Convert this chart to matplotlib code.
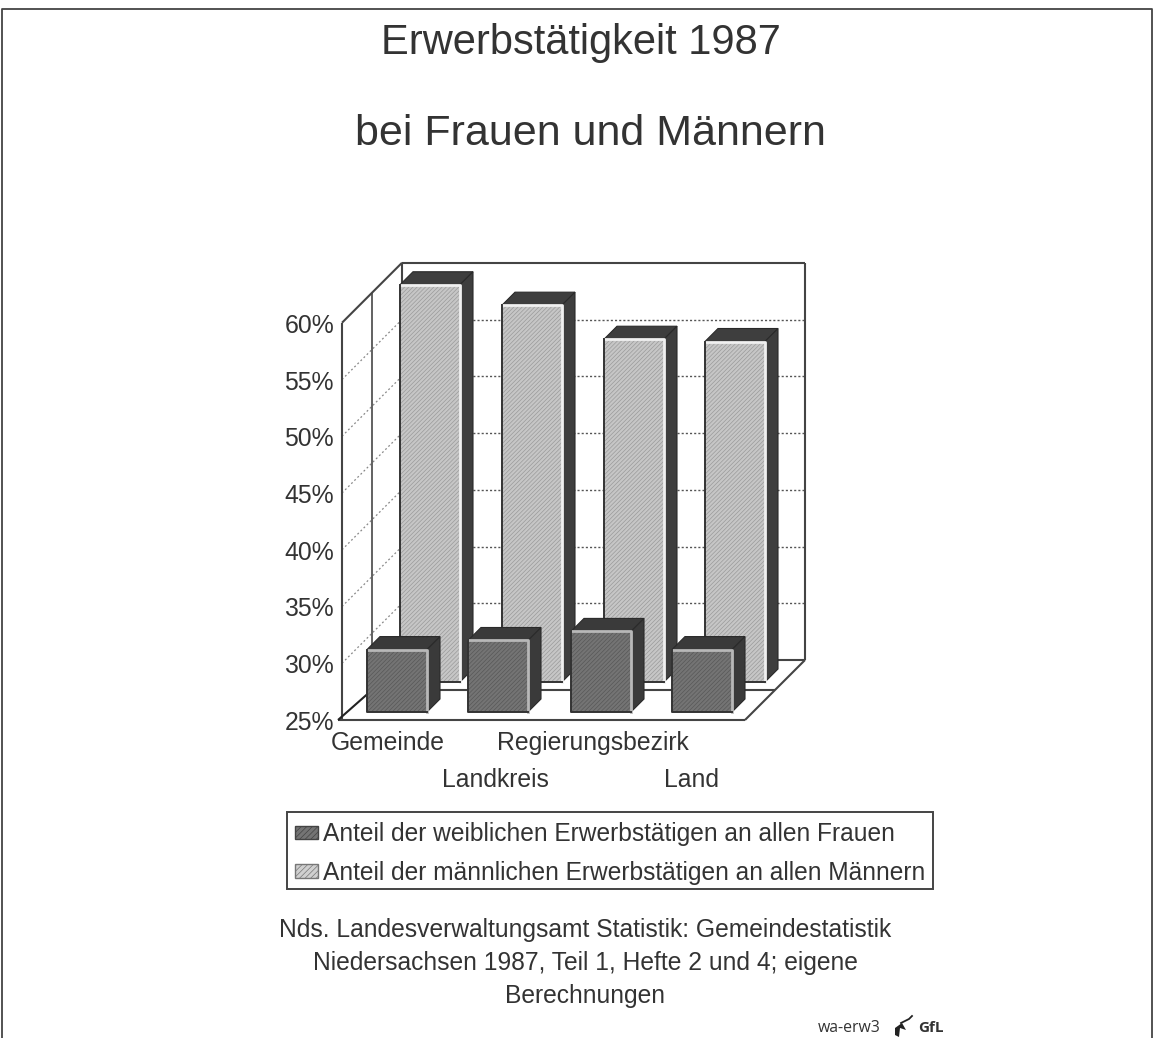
import matplotlib
matplotlib.use("Agg")
import matplotlib.pyplot as plt
from matplotlib.patches import Polygon, Rectangle

plt.rcParams['font.family'] = ['Liberation Sans', 'DejaVu Sans']
plt.rcParams['hatch.linewidth'] = 0.5

categories_row1 = ["Gemeinde", "Regierungsbezirk"]
categories_row2 = ["Landkreis", "Land"]
women = [30.5, 31.3, 32.1, 30.5]
men = [60.0, 58.2, 55.2, 55.0]
ticks = [25, 30, 35, 40, 45, 50, 55, 60]
women_left = [359, 460, 563, 664]
men_left = [362, 464, 566, 667]
title_lines = ["Erwerbstätigkeit 1987", "bei Frauen und Männern"]
legend_labels = ["Anteil der weiblichen Erwerbstätigen an allen Frauen",
                 "Anteil der männlichen Erwerbstätigen an allen Männern"]
source_lines = ["Nds. Landesverwaltungsamt Statistik: Gemeindestatistik",
                "Niedersachsen 1987, Teil 1, Hefte 2 und 4; eigene",
                "Berechnungen"]

W, H = 1155, 1038
PX_PER_PCT = 11.35
Y25 = 720
TXT = '#333333'

fig = plt.figure(figsize=(W / 100, H / 100), dpi=100, facecolor='white')
ax = fig.add_axes([0, 0, 1, 1], zorder=1)
ax.set_xlim(0, W)
ax.set_ylim(25 - (H - Y25) / PX_PER_PCT, 25 + Y25 / PX_PER_PCT)
ax.axis('off')
ov = fig.add_axes([0, 0, 1, 1], zorder=2)
ov.set_xlim(0, W)
ov.set_ylim(H, 0)
ov.axis('off')
ov.patch.set_alpha(0)


def proj(x, value, depth=0):
    return x + depth, value + depth / PX_PER_PCT


def line(a, b, **kw):
    ax.plot([a[0], b[0]], [a[1], b[1]], solid_capstyle='butt', **kw)


FX0, FX1, DEPTH = 342, 745, 60
LINE = dict(color='#444444', lw=1.5, zorder=2)
DOT = dict(color='#555555', lw=1.0, ls=(0, (1.5, 1.5)), zorder=1)

# grid on back and left walls
for t in ticks:
    if 25 < t < 60:
        line(proj(FX0, t, DEPTH), proj(FX1, t, DEPTH), **DOT)
        line(proj(FX0, t), proj(FX0, t, DEPTH), color='#888888', lw=0.9,
             ls=(0, (1.5, 2)), zorder=1)

# walls and floor frame
top = ticks[-1]
bot = ticks[0]
line(proj(FX0, bot), proj(FX0, top), **LINE)
line(proj(FX0, bot, 30), proj(FX0, top, 30), color='#555555', lw=1.3, zorder=2)
line(proj(FX0, bot, DEPTH), proj(FX0, top, DEPTH), **LINE)
line(proj(FX1, bot, DEPTH), proj(FX1, top, DEPTH), **LINE)
line(proj(FX0, top), proj(FX0, top, DEPTH), **LINE)
line(proj(FX0, top, DEPTH), proj(FX1, top, DEPTH), **LINE)
line(proj(FX0 - 4, bot), proj(FX1, bot), **LINE)
line(proj(FX0, bot, 30), proj(FX1, bot, 30), **LINE)
line(proj(FX0, bot, DEPTH), proj(FX1, bot, DEPTH), **LINE)
line(proj(FX0 - 4, bot), proj(FX0, bot, 30), color='#222222', lw=1.5, zorder=2)
line(proj(FX1, bot), proj(FX1, bot, DEPTH), **LINE)


def bar3d(left, value, depth, width, d, face, hatch, dark, light, z):
    p = lambda x, v, dd=0: proj(left + x, v, depth + dd)
    base = bot
    ax.add_patch(Polygon([p(0, value), p(0, value, d), p(width, value, d),
                          p(width, value)], fc=dark, ec='#2a2a2a', lw=0.8, zorder=z))
    ax.add_patch(Polygon([p(width, base), p(width, base, d), p(width, value, d),
                          p(width, value)], fc=dark, ec='#2a2a2a', lw=0.8, zorder=z))
    xy0 = p(0, base)
    xy1 = p(width, value)
    ax.add_patch(Rectangle(xy0, xy1[0] - xy0[0], xy1[1] - xy0[1], fc=face,
                           ec=hatch, hatch='////////', lw=0, zorder=z + 0.1))
    ax.plot([xy0[0], xy1[0], xy1[0]], [xy1[1], xy1[1], xy0[1]], color=light, lw=2,
            zorder=z + 0.2)
    ax.plot([xy0[0], xy0[0], xy1[0]], [xy1[1], xy0[1], xy0[1]], color='#333333', lw=1.4,
            zorder=z + 0.2)


for x, v in zip(men_left, men):
    bar3d(x, v, 38, 60, 13, '#c6c6c6', '#9a9a9a', '#3e3e3e', '#f0f0f0', 3)
for x, v in zip(women_left, women):
    bar3d(x, v, 8, 60, 13, '#747474', '#585858', '#3a3a3a', '#b8b8b8', 5)

# tick labels
for t in ticks:
    ax.annotate(f"{t}%", (334, t), xytext=(0, -3), textcoords='offset pixels',
                ha='right', va='center', fontsize=17.8, color=TXT, zorder=6)

# page frame
ov.plot([2, 2, 1152, 1152], [H, 9, 9, H], color='#444444', lw=1.3)

# titles
ov.text(581, 43, title_lines[0], ha='center', va='center', fontsize=30, color=TXT)
ov.text(590, 134, title_lines[1], ha='center', va='center', fontsize=31, color=TXT)

# category labels
for (name, x) in zip(categories_row1, (388, 593)):
    ov.text(x, 743, name, ha='center', va='center', fontsize=17.8, color=TXT)
for (name, x) in zip(categories_row2, (495, 692)):
    ov.text(x, 780, name, ha='center', va='center', fontsize=17.8, color=TXT)

# legend
ov.add_patch(Rectangle((287, 812), 646, 77, fc='none', ec='#444444', lw=1.4))
ov.add_patch(Rectangle((295, 826), 23, 13, fc='#747474', ec='#444444', hatch='//////', lw=1))
ov.add_patch(Rectangle((295, 864), 23, 14, fc='#d0d0d0', ec='#777777', hatch='//////', lw=1))
ov.text(323, 834, legend_labels[0], ha='left', va='center', fontsize=17.65, color=TXT)
ov.text(323, 873, legend_labels[1], ha='left', va='center', fontsize=17.65, color=TXT)

# source
for y, s in zip((930, 963, 996), source_lines):
    ov.text(585, y, s, ha='center', va='center', fontsize=17.7, color=TXT)

# footer
ov.text(818, 1028, "wa-erw3", ha='left', va='center', fontsize=11.4, color=TXT,
        family=['Open Sans', 'DejaVu Sans'])
ov.text(918, 1028, "GfL", ha='left', va='center', fontsize=11, color=TXT,
        fontweight='bold', family=['Open Sans', 'DejaVu Sans'])
ov.add_patch(Polygon([(895, 1028), (902, 1023), (906, 1030), (900, 1028), (899, 1037),
                      (895, 1035)], fc='#222222', ec='none'))
ov.plot([901, 909, 912], [1023, 1019, 1016], color='#222222', lw=1.3)

fig.savefig('out.png', dpi=100, facecolor='white')
